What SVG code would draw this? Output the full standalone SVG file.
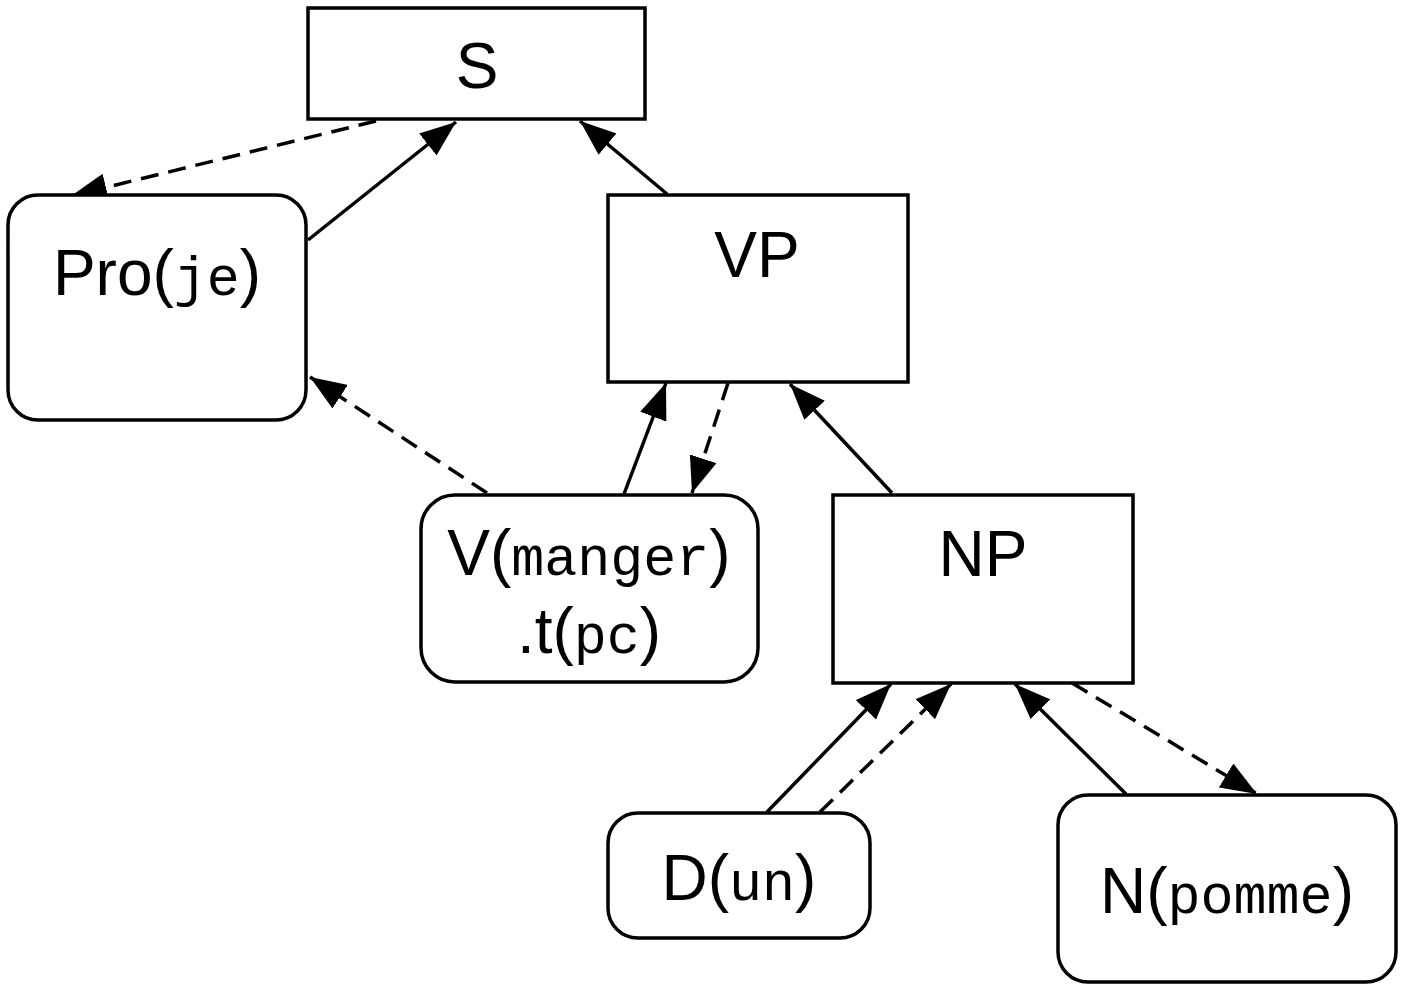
<svg xmlns="http://www.w3.org/2000/svg" width="1404" height="991" viewBox="0 0 1404 991">
<style>
.box{fill:#fff;stroke:#000;stroke-width:3.5}
.lbl{font-family:"Liberation Sans",Arial,sans-serif;font-size:64px;fill:#000;text-anchor:middle}
.m{font-family:"Liberation Mono","Courier New",monospace;font-size:55px}
.c{stroke:#000;stroke-width:3.5;fill:none}
.d{stroke-dasharray:18 10}
</style>
<defs>
<marker id="ah" markerUnits="userSpaceOnUse" markerWidth="36" markerHeight="28" refX="36" refY="14" orient="auto">
<path d="M0,0 L36,14 L0,28 Z" fill="#000"/>
</marker>
</defs>
<rect width="1404" height="991" fill="#fff"/>
<g id="connectors">
<line class="c d" x1="376" y1="121" x2="71" y2="196" marker-end="url(#ah)"/>
<line class="c" x1="308" y1="240" x2="456" y2="122" marker-end="url(#ah)"/>
<line class="c" x1="667" y1="194" x2="580" y2="121" marker-end="url(#ah)"/>
<line class="c d" x1="487" y1="493" x2="310" y2="377" marker-end="url(#ah)"/>
<line class="c" x1="624" y1="494" x2="666" y2="383" marker-end="url(#ah)"/>
<line class="c d" x1="728" y1="383" x2="692" y2="493" marker-end="url(#ah)"/>
<line class="c" x1="892" y1="493" x2="790" y2="384" marker-end="url(#ah)"/>
<line class="c" x1="767" y1="812" x2="891" y2="684" marker-end="url(#ah)"/>
<line class="c d" x1="820" y1="812" x2="951" y2="684" marker-end="url(#ah)"/>
<line class="c" x1="1126" y1="794" x2="1015" y2="684" marker-end="url(#ah)"/>
<line class="c d" x1="1072" y1="683" x2="1257" y2="794" marker-end="url(#ah)"/>
</g>
<g id="S">
<rect class="box" x="308" y="8" width="337" height="111"/>
<text class="lbl" x="477" y="88">S</text>
</g>
<g id="Pro">
<rect class="box" x="8" y="195" width="298" height="225" rx="30"/>
<text class="lbl" x="157" y="295">Pro(<tspan class="m">je</tspan>)</text>
</g>
<g id="VP">
<rect class="box" x="608" y="195" width="300" height="187"/>
<text class="lbl" x="757" y="277">VP</text>
</g>
<g id="V">
<rect class="box" x="421" y="495" width="337" height="187" rx="34"/>
<text class="lbl" x="589" y="575">V(<tspan class="m">manger</tspan>)</text>
<text class="lbl" x="589" y="653">.t(<tspan class="m">pc</tspan>)</text>
</g>
<g id="NP">
<rect class="box" x="833" y="495" width="300" height="188"/>
<text class="lbl" x="983" y="576">NP</text>
</g>
<g id="D">
<rect class="box" x="608" y="813" width="262" height="125" rx="30"/>
<text class="lbl" x="739" y="900">D(<tspan class="m">un</tspan>)</text>
</g>
<g id="N">
<rect class="box" x="1058" y="795" width="338" height="187" rx="30"/>
<text class="lbl" x="1227" y="913">N(<tspan class="m">pomme</tspan>)</text>
</g>
</svg>
